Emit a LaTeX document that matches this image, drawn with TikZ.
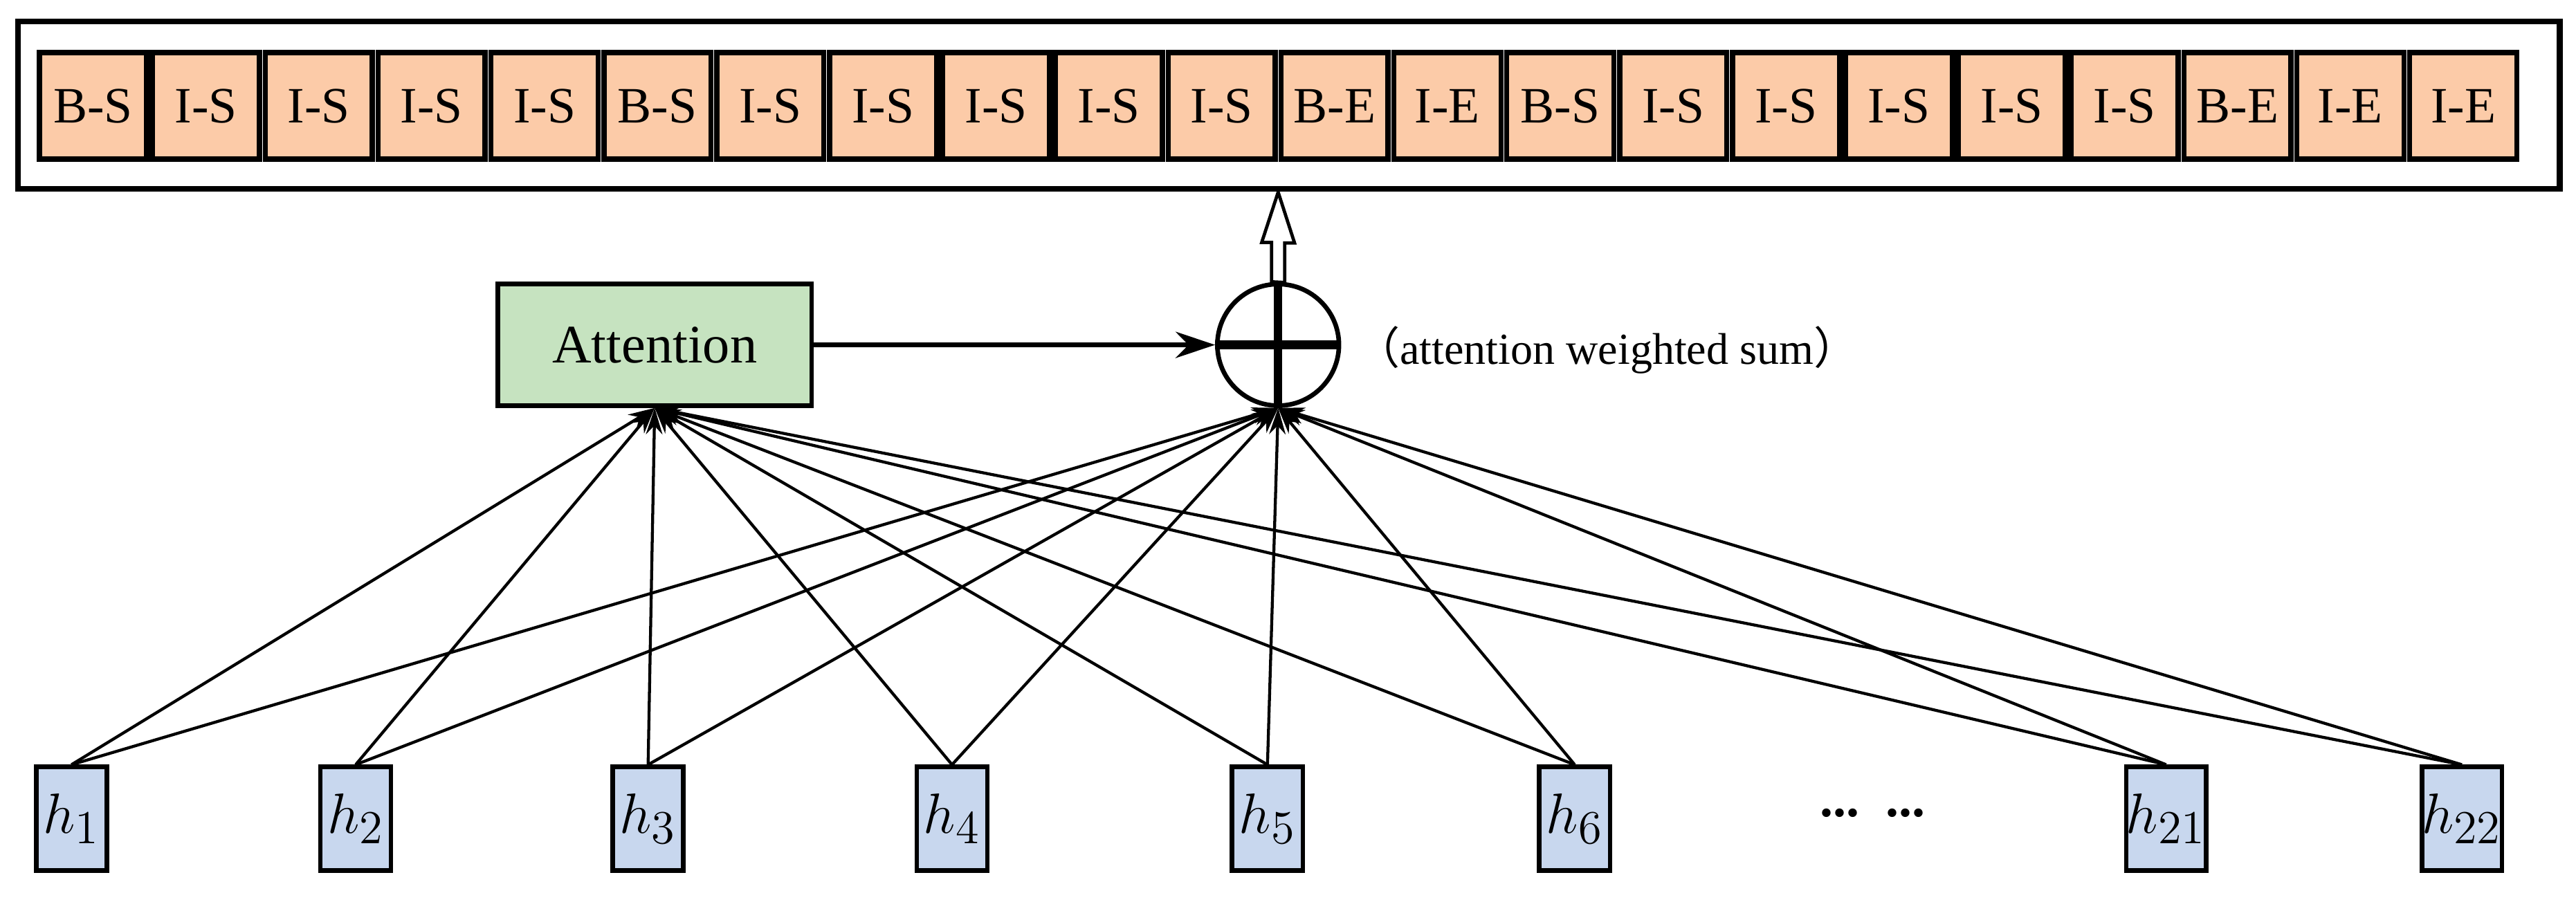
\documentclass[tikz,border=0pt]{standalone}
\usepackage{fontspec}
\setmainfont{Liberation Serif}
\newfontfamily\cjk{Noto Sans CJK SC}
\usetikzlibrary{arrows.meta}
\definecolor{lab}{HTML}{FCCBA8}
\definecolor{att}{HTML}{C6E3C0}
\definecolor{hid}{HTML}{C8D7EE}
\tikzset{
 lab/.style={draw,line width=1.6pt,fill=lab,minimum width=32.6pt,minimum height=32.5pt,inner sep=0pt,font=\fontsize{15.5}{15.5}\selectfont},
 hb/.style={draw,line width=1.4pt,fill=hid,minimum width=21.5pt,minimum height=31.5pt,inner sep=0pt,font=\fontsize{19}{19}\selectfont},
 con/.style={line width=0.9pt,-{Stealth[length=8pt,width=5pt]}},
}
\begin{document}
\begin{tikzpicture}[x=0.5pt,y=0.5pt]
\useasboundingbox (0,0) rectangle (1568,549);
\draw[line width=1.8pt] (11,434) rectangle (1558,536);
\foreach \t [count=\i] in {B-S,I-S,I-S,I-S,I-S,B-S,I-S,I-S,I-S,I-S,I-S,B-E,I-E,B-S,I-S,I-S,I-S,I-S,I-S,B-E,I-E,I-E}
  \node[lab] (l\i) at ({24+32.65+(\i-1)*68.7},484.5) {\t};
\node[draw,line width=1.4pt,fill=att,minimum width=95.5pt,minimum height=37pt,inner sep=0pt,font=\fontsize{16.5}{16.5}\selectfont] (att) at (398.5,339) {Attention};
\node[draw,circle,line width=1.4pt,minimum size=37pt,inner sep=0pt,fill=white] (sum) at (778,339) {};
\draw[line width=2.6pt] (sum.north) -- (sum.south) (sum.west) -- (sum.east);
\node[anchor=west,font=\fontsize{13.5}{13.5}\selectfont] (txt) at (818,336) {{\cjk （}attention weighted sum{\cjk ）}};
\draw[con,line width=1.4pt,-{Stealth[length=12pt,width=8pt]}] (att.east) -- (sum.west);
\coordinate (tip) at (778,432);
\draw[line width=1pt,fill=white] (sum.north) ++(-4,0) -- ++(0,24) -- ++(-6,0) -- (tip) -- ++(10,-31) -- ++(-6,0) -- ++(0,-24) -- cycle;
\foreach \x/\n/\s in {43.5/1/1,216.5/2/2,394.5/3/3,579.5/4/4,771.5/5/5,958.5/6/6,1318.5/21/21,1498.5/22/22}{
  \node[hb] (h\n) at (\x,50.5) {$h_{\s}$};
}
\node[font=\fontsize{16}{16}\selectfont\bfseries] (dots) at (1140,54) {\textbf{...}\ \ \textbf{...}};
\foreach \n in {1,2,3,4,5,6,21,22}{
  \draw[con] (h\n.north) -- (att.south);
  \draw[con] (h\n.north) -- (sum.south);
}
\end{tikzpicture}
\end{document}
